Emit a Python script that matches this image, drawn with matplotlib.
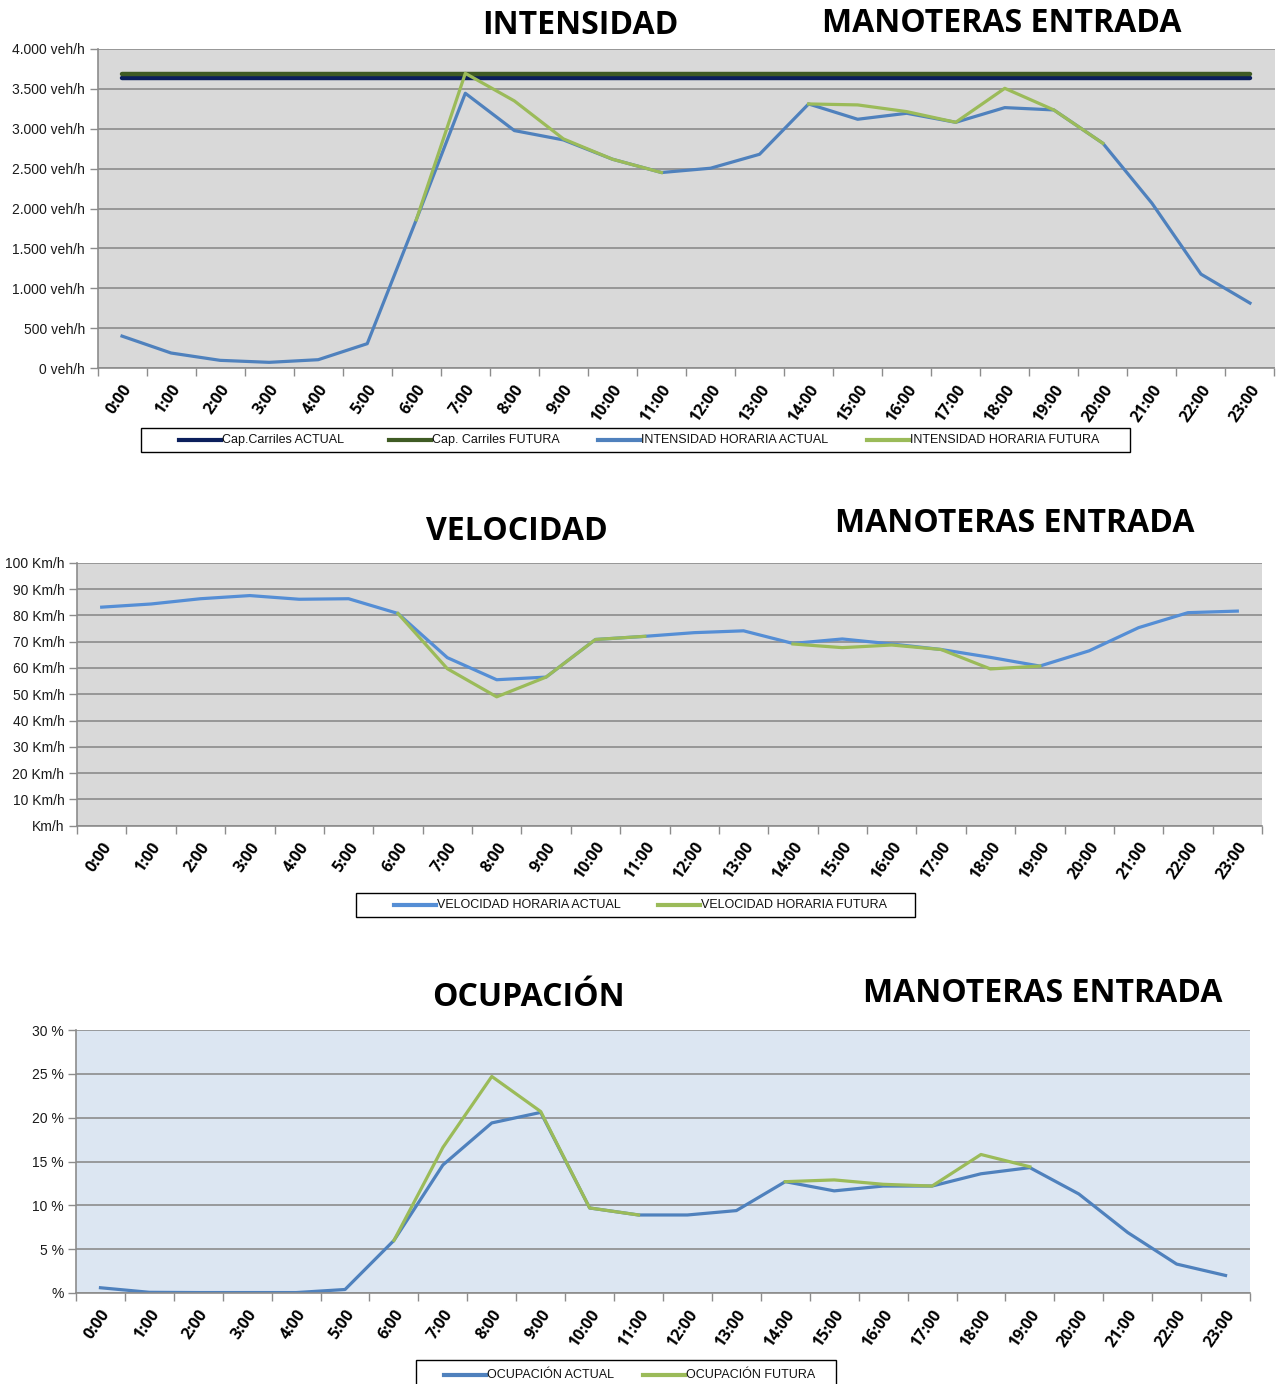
import numpy as np
import matplotlib
matplotlib.use("Agg")
import matplotlib.pyplot as plt
from matplotlib.lines import Line2D
from matplotlib.patches import Rectangle

# ---------------- data ----------------
hours = [f"{h}:00" for h in range(24)]
nan = np.nan

int_actual = [400, 188, 96, 71, 104, 305, 1858, 3445, 2977, 2860, 2618, 2451,
              2505, 2680, 3311, 3119, 3194, 3081, 3265, 3236, 2818, 2067, 1177, 814]
int_futura = [nan, nan, nan, nan, nan, nan, 1858, 3695, 3349, 2873, 2618, 2451,
              nan, nan, 3311, 3299, 3215, 3081, 3507, 3236, 2818, nan, nan, nan]
cap_actual = 3641
cap_futura = 3687

vel_actual = [83.1, 84.3, 86.3, 87.5, 86.1, 86.3, 80.7, 63.9, 55.5, 56.5, 70.8, 72.0,
              73.4, 74.1, 69.3, 71.0, 69.1, 67.0, 64.0, 60.7, 66.5, 75.3, 81.0, 81.6]
vel_futura = [nan, nan, nan, nan, nan, nan, 80.7, 59.7, 49.0, 56.5, 70.8, 72.0,
              nan, nan, 69.1, 67.7, 68.7, 67.0, 59.6, 60.7, nan, nan, nan, nan]

ocu_actual = [0.6, 0.08, 0.05, 0.05, 0.05, 0.4, 6.0, 14.6, 19.4, 20.6, 9.7, 8.9,
              8.9, 9.4, 12.7, 11.65, 12.2, 12.2, 13.6, 14.3, 11.3, 6.9, 3.3, 2.0]
ocu_futura = [nan, nan, nan, nan, nan, nan, 6.0, 16.6, 24.7, 20.7, 9.7, 8.9,
              nan, nan, 12.7, 12.9, 12.4, 12.2, 15.8, 14.4, nan, nan, nan, nan]

int_ticks = [0, 500, 1000, 1500, 2000, 2500, 3000, 3500, 4000]
int_labels = ["0 veh/h", "500 veh/h", "1.000 veh/h", "1.500 veh/h", "2.000 veh/h",
              "2.500 veh/h", "3.000 veh/h", "3.500 veh/h", "4.000 veh/h"]
vel_ticks = list(range(0, 101, 10))
vel_labels = ["Km/h"] + [f"{v} Km/h" for v in range(10, 101, 10)]
ocu_ticks = [0, 5, 10, 15, 20, 25, 30]
ocu_labels = ["%"] + [f"{v} %" for v in range(5, 31, 5)]

titles = ["INTENSIDAD", "VELOCIDAD", "OCUPACIÓN"]
subtitle = "MANOTERAS ENTRADA"
leg1 = ["Cap.Carriles ACTUAL", "Cap. Carriles FUTURA",
        "INTENSIDAD HORARIA ACTUAL", "INTENSIDAD HORARIA FUTURA"]
leg2 = ["VELOCIDAD HORARIA ACTUAL", "VELOCIDAD HORARIA FUTURA"]
leg3 = ["OCUPACIÓN ACTUAL", "OCUPACIÓN FUTURA"]

# ---------------- style ----------------
W, H = 1276, 1384
BLUE = "#4F81BD"
BLUE2 = "#558ED5"
GREEN = "#9BBB59"
NAVY = "#0B1F5C"
DKGREEN = "#3F5B24"
GRID = "#8C8C8C"
ARIAL = ["Liberation Sans", "DejaVu Sans"]
TITLEF = ["Open Sans", "DejaVu Sans"]

fig = plt.figure(figsize=(W / 100, H / 100), dpi=100)
fig.patch.set_facecolor("white")


def fx(px):
    return px / W


def fy(py):
    return 1 - py / H


def add_axes(left, right, top, bottom):
    return fig.add_axes([fx(left), fy(bottom), (right - left) / W, (bottom - top) / H])


def style_axes(ax, bg, yticks, ylabels, ymax):
    x = np.arange(24)
    ax.set_facecolor(bg)
    ax.set_xlim(-0.5, 23.5)
    ax.set_ylim(0, ymax)
    ax.set_yticks(yticks)
    ax.set_yticklabels(ylabels, fontsize=10, family=ARIAL, color="#1a1a1a")
    ax.yaxis.grid(True, color=GRID, lw=1.2)
    ax.set_axisbelow(True)
    ax.set_xticks(np.arange(-0.5, 24, 1))
    ax.set_xticklabels([])
    ax.set_xticks(x, minor=True)
    ax.set_xticklabels(hours, minor=True, rotation=55, ha="right", va="top",
                       rotation_mode="anchor", fontsize=11.5, fontweight="bold",
                       family=["Open Sans", "DejaVu Sans"])
    ax.tick_params(axis="x", which="major", length=6, color=GRID, width=1)
    ax.tick_params(axis="x", which="minor", length=0, pad=10)
    ax.tick_params(axis="y", length=6, color=GRID, width=1, pad=3)
    for s in ["top", "right"]:
        ax.spines[s].set_visible(False)
    for s in ["left", "bottom"]:
        ax.spines[s].set_color(GRID)
        ax.spines[s].set_linewidth(1.2)


def legend(colors, labels, box, handles_x):
    x0, x1, y0, y1 = box
    fig.patches.append(Rectangle((fx(x0), fy(y1)), (x1 - x0) / W, (y1 - y0) / H,
                                 transform=fig.transFigure, facecolor="white",
                                 edgecolor="black", lw=1.0))
    yc = fy((y0 + y1) / 2)
    for c, lab, hx in zip(colors, labels, handles_x):
        fig.lines.append(Line2D([fx(hx), fx(hx + 42)], [yc, yc], color=c, lw=3,
                                transform=fig.transFigure))
        fig.text(fx(hx + 43), yc, lab, ha="left", va="center", fontsize=9,
                 family=ARIAL, color="#111111")


def title(text, xc, y, size=23):
    fig.text(fx(xc), fy(y), text, ha="center", va="center", fontsize=size,
             fontweight="bold", family=TITLEF)


x = np.arange(24)

# ---- chart 1 ----
ax1 = add_axes(97.5, 1274.5, 49, 368)
style_axes(ax1, "#D9D9D9", int_ticks, int_labels, 4000)
ax1.plot(x, [cap_actual] * 24, color=NAVY, lw=3.2, solid_capstyle="round")
ax1.plot(x, [cap_futura] * 24, color=DKGREEN, lw=3.2, solid_capstyle="round")
ax1.plot(x, int_actual, color=BLUE, lw=2.3)
ax1.plot(x, int_futura, color=GREEN, lw=2.3)
title(titles[0], 580, 25)
title(subtitle, 1002, 23)
legend([NAVY, DKGREEN, BLUE, GREEN], leg1, (141, 1130, 428, 452), [179, 389, 598, 867])

# ---- chart 2 ----
ax2 = add_axes(77, 1262, 562.7, 825.7)
style_axes(ax2, "#D9D9D9", vel_ticks, vel_labels, 100)
ax2.plot(x, vel_actual, color=BLUE2, lw=2.3)
ax2.plot(x, vel_futura, color=GREEN, lw=2.3)
title(titles[1], 517, 531)
title(subtitle, 1015, 524)
legend([BLUE2, GREEN], leg2, (356, 915, 893, 917), [394, 658])

# ---- chart 3 ----
ax3 = add_axes(76, 1250, 1030, 1293)
style_axes(ax3, "#DCE6F2", ocu_ticks, ocu_labels, 30)
ax3.plot(x, ocu_actual, color=BLUE, lw=2.3)
ax3.plot(x, ocu_futura, color=GREEN, lw=2.3)
title(titles[2], 528, 998)
title(subtitle, 1043, 994)
legend([BLUE, GREEN], leg3, (416, 836, 1360, 1390), [444, 643])

fig.savefig("out.png", dpi=100)
